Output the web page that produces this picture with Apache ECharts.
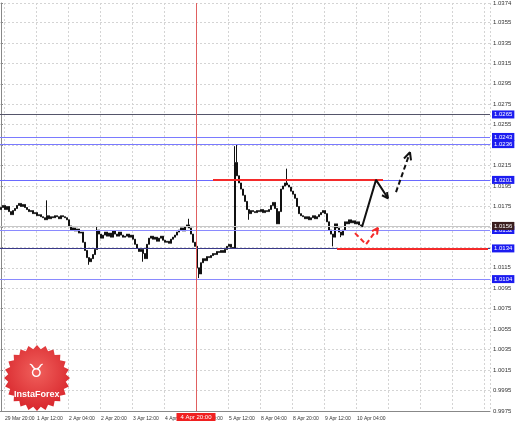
<!DOCTYPE html>
<html>
<head>
<meta charset="utf-8">
<script src="https://cdn.jsdelivr.net/npm/echarts@6/dist/echarts.min.js"></script>
<style>
html, body { margin: 0; padding: 0; background: #fff; }
#chart { width: 518px; height: 425px; }
</style>
</head>
<body>
<div id="chart"></div>
<script>
// hourly closes, one per bar
const closes = [
  1.0174, 1.0176, 1.0172, 1.0175, 1.0170, 1.0167, 1.0171, 1.0173,
  1.0176, 1.0178, 1.0175, 1.0177, 1.0174,
  1.0172, 1.0170, 1.0171, 1.0168, 1.0169, 1.0166, 1.0167, 1.0165,
  1.0164, 1.0162, 1.0166, 1.0163,
  1.0165, 1.0164, 1.0166, 1.0165, 1.0163, 1.0166, 1.0165, 1.0164, 1.0162,
  1.0156, 1.0152, 1.0154, 1.0151, 1.0153, 1.0149, 1.0150,
  1.0140, 1.0132, 1.0125, 1.0121,
  1.0124, 1.0128, 1.0133,
  1.0152,
  1.0148, 1.0144, 1.0147, 1.0150, 1.0146, 1.0149, 1.0145, 1.0151, 1.0148, 1.0146, 1.0150, 1.0147, 1.0145,
  1.0146, 1.0148, 1.0145, 1.0147, 1.0143,
  1.0138, 1.0134, 1.0131, 1.0133, 1.0129, 1.0124,
  1.0138, 1.0144, 1.0146, 1.0143, 1.0145, 1.0141, 1.0144, 1.0146, 1.0142, 1.0140,
  1.0141, 1.0139, 1.0143, 1.0145, 1.0147,
  1.0150, 1.0152, 1.0154, 1.0151, 1.0155,
  1.0157, 1.0154, 1.0148,
  1.0140, 1.0136,
  1.0115, 1.0109,
  1.0120, 1.0124, 1.0122, 1.0126, 1.0125,
  1.0127, 1.0129, 1.0128, 1.0131, 1.0130, 1.0132, 1.0130, 1.0133,
  1.0136, 1.0138, 1.0135,
  1.0134,
  1.0218, 1.0205, 1.0198,
  1.0192, 1.0186, 1.0180,
  1.0172, 1.0168,
  1.0171, 1.0170, 1.0169, 1.0171, 1.0170, 1.0172, 1.0169, 1.0171, 1.0170, 1.0172,
  1.0176, 1.0179, 1.0173,
  1.0158,
  1.0170,
  1.0192, 1.0195, 1.0198, 1.0196, 1.0194,
  1.0190, 1.0187, 1.0183,
  1.0175, 1.0168, 1.0166,
  1.0165, 1.0163, 1.0165, 1.0162, 1.0164, 1.0166, 1.0163, 1.0165, 1.0167,
  1.0169, 1.0171, 1.0168,
  1.0160, 1.0152, 1.0148,
  1.0145,
  1.0158, 1.0154,
  1.0150, 1.0147, 1.0152,
  1.0160, 1.0158, 1.0162, 1.0159, 1.0161, 1.0158, 1.0160, 1.0157, 1.0156
]
const firstOpen = 1.0172

// bars with long shadows
const spikeIdx = [23, 44, 48, 71, 94, 99, 117, 118, 124, 143, 166, 170]
const spikeLow = [null, 1.0118, null, 1.0121, null, 1.0105, null, null, 1.0162, null, 1.0136, 1.0145]
const spikeHigh = [1.0181, null, 1.0156, null, 1.0163, null, 1.0234, 1.0236, null, 1.0212, null, null]

const slotCount = 245
const tickLabels = ['29 Mar 20:00', '1 Apr 12:00', '2 Apr 04:00', '2 Apr 20:00', '3 Apr 12:00', '4 Apr 04:00',
  '4 Apr 20:00', '5 Apr 12:00', '8 Apr 04:00', '8 Apr 20:00', '9 Apr 12:00', '10 Apr 04:00']
const tickStart = 2
const tickStep = 16

// horizontal levels: value, line colour
const levelValues = [1.0265, 1.0243, 1.0236, 1.0201, 1.0152, 1.0134, 1.0104]
const levelColors = ['#55556a', '#7a7aff', '#7a7aff', '#6a6aff', '#8a8aff', '#3a3a8a', '#8a8aff']
const bidPrice = 1.0156

// red resistance / support segments [fromBar, toBar, price]
const redLevels = [[106, 191, 1.0201], [168, 243.5, 1.0134]]
const markerBar = 97.5
const markerText = '4 Apr 20:00'

// forecast arrows in [bar, price]
const solidPath = [[180.5, 1.0155], [187.5, 1.0201], [193.5, 1.0183]]
const solidHead = [[190.5, 1.0186], [193.5, 1.0183], [193, 1.0189]]
const dashedPath = [[197.5, 1.0189], [204.5, 1.0228]]
const dashedHead = [[201.5, 1.0222], [204.5, 1.0228], [205, 1.0220]]
const redPath = [[177, 1.0149], [182.5, 1.0138], [188.5, 1.0154]]
const redHead = [[185.5, 1.0151], [188.5, 1.0154], [188, 1.01475]]

const categories = []
for (let i = 0; i < slotCount; i++) categories.push('b' + i)
const isTick = i => i >= tickStart && (i - tickStart) % tickStep === 0

const candles = closes.map((c, i) => {
  const o = i === 0 ? firstOpen : closes[i - 1]
  let lo = Math.min(o, c)
  let hi = Math.max(o, c)
  const k = spikeIdx.indexOf(i)
  if (k >= 0) {
    if (spikeLow[k] != null) lo = spikeLow[k]
    if (spikeHigh[k] != null) hi = spikeHigh[k]
  }
  return [o, c, lo, hi]
})

const boxLabel = (bg) => ({
  show: true,
  position: 'end',
  distance: 2,
  formatter: p => Number(p.value).toFixed(4),
  backgroundColor: bg,
  color: '#fff',
  fontSize: 6,
  fontFamily: 'Liberation Sans',
  padding: [1, 2]
})

const levelLines = levelValues.map((v, i) => ({
  yAxis: v,
  lineStyle: { color: levelColors[i], width: 1, type: 'solid' },
  label: boxLabel('#1c1cf0')
}))
levelLines.push({
  yAxis: bidPrice,
  lineStyle: { color: '#c8c8c8', width: 1, type: 'solid' },
  label: boxLabel('#3a1e1e')
})

const redSegments = redLevels.map(r => [
  { coord: [r[0], r[2]] },
  { coord: [r[1], r[2]] }
])

function arrowSeries(data, color, dashed) {
  return {
    type: 'line',
    xAxisIndex: 1,
    data: data,
    symbol: 'none',
    silent: true,
    z: 5,
    lineStyle: { color: color, width: 2, type: dashed ? [5, 3] : 'solid' }
  }
}

// badge in the corner
const badge = []
for (let k = 0; k < 48; k++) {
  const r = k % 2 ? 29 : 33
  const a = Math.PI * 2 * k / 48
  badge.push([37 + r * Math.cos(a), 378 + r * Math.sin(a)])
}

const chart = echarts.init(document.getElementById('chart'))
chart.setOption({
  animation: false,
  backgroundColor: '#fff',
  grid: { left: 0, right: 28, top: 0, bottom: 14 },
  xAxis: [{
    type: 'category',
    data: categories,
    boundaryGap: true,
    axisLine: { lineStyle: { color: '#888' } },
    axisTick: { interval: (i) => isTick(i), length: 3, lineStyle: { color: '#888' } },
    axisLabel: {
      interval: (i) => isTick(i) && (i - tickStart) / tickStep < tickLabels.length,
      formatter: (v, i) => tickLabels[(i - tickStart) / tickStep] || '',
      hideOverlap: false,
      align: 'left',
      fontSize: 5,
      fontFamily: 'Liberation Sans',
      color: '#333',
      margin: 5
    },
    splitLine: { show: true, interval: (i) => isTick(i), lineStyle: { color: '#d4d4d4', type: [2, 2] } }
  }, {
    type: 'value',
    min: -0.5,
    max: slotCount - 0.5,
    show: false
  }],
  yAxis: {
    type: 'value',
    position: 'right',
    min: 0.9975,
    max: 1.0374,
    interval: 0.002,
    scale: true,
    axisLine: { show: true, lineStyle: { color: '#888' } },
    axisTick: { show: true, length: 2, lineStyle: { color: '#888' } },
    axisLabel: {
      formatter: v => v.toFixed(4),
      fontSize: 6,
      fontFamily: 'Liberation Sans',
      color: '#333',
      margin: 3
    },
    splitLine: { show: true, lineStyle: { color: '#d4d4d4', type: [2, 2] } }
  },
  series: [{
    type: 'candlestick',
    data: candles,
    barWidth: 2,
    itemStyle: {
      color: '#111', color0: '#111',
      borderColor: '#111', borderColor0: '#111', borderWidth: 1
    },
    markLine: {
      silent: true,
      precision: 4,
      symbol: ['none', 'none'],
      animation: false,
      data: levelLines
    }
  }, {
    type: 'line',
    xAxisIndex: 1,
    data: [],
    symbol: 'none',
    z: 4,
    markLine: {
      silent: true,
      precision: 4,
      symbol: ['none', 'none'],
      animation: false,
      data: redSegments.map(s => [
        Object.assign({ lineStyle: { color: '#f42a2a', width: 2, type: 'solid' }, label: { show: false } }, s[0]),
        s[1]
      ]).concat([{
        xAxis: markerBar,
        lineStyle: { color: '#e06060', width: 1, type: 'solid' },
        label: {
          show: true,
          position: 'start',
          distance: 2,
          formatter: markerText,
          backgroundColor: '#f02020',
          color: '#fff',
          fontSize: 6,
          fontFamily: 'Liberation Sans',
          padding: [1, 4]
        }
      }])
    }
  },
  arrowSeries(solidPath, '#111', false),
  arrowSeries(solidHead, '#111', false),
  arrowSeries(dashedPath, '#111', true),
  arrowSeries(dashedHead, '#111', false),
  arrowSeries(redPath, '#f42a2a', true),
  arrowSeries(redHead, '#f42a2a', false)
  ],
  graphic: [{
    type: 'polygon',
    shape: { points: badge },
    style: {
      fill: new echarts.graphic.RadialGradient(0.5, 0.4, 0.6, [
        { offset: 0, color: '#f0605c' },
        { offset: 1, color: '#d8262c' }
      ])
    },
    z: 20
  }, {
    type: 'text',
    left: 28,
    top: 363,
    style: { text: '\u2649', fill: '#fff', font: '18px "DejaVu Sans"' },
    z: 21
  }, {
    type: 'text',
    left: 14,
    top: 390,
    style: { text: 'InstaForex', fill: '#fff', font: 'bold 9px "Liberation Sans"' },
    z: 21
  }]
})
</script>
</body>
</html>
